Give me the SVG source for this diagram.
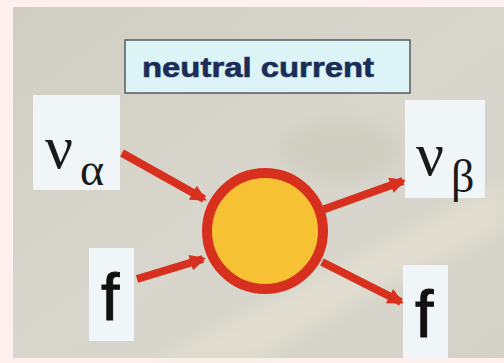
<svg xmlns="http://www.w3.org/2000/svg" width="504" height="363" viewBox="0 0 504 363">
<style>
.lbl{fill:#f0f5f8}
.arrow{stroke:#d8301e;stroke-width:8;fill:none;stroke-linecap:butt}
.serif{font-family:"Liberation Serif","DejaVu Serif",serif;fill:#1a1a1a}
.sans{font-family:"Liberation Sans",Arial,sans-serif;fill:#111;stroke:#111;stroke-width:1}
</style>
<defs>
<marker id="ah" viewBox="0 0 10 10" refX="8" refY="5" markerWidth="2.2" markerHeight="2" orient="auto" markerUnits="strokeWidth">
<path d="M0,0 L10,5 L0,10 z" fill="#d8301e"/>
</marker>
<linearGradient id="bg" x1="0" y1="0" x2="1" y2="1">
<stop offset="0" stop-color="#d0cdc2"/>
<stop offset="0.5" stop-color="#d9d7cd"/>
<stop offset="1" stop-color="#d4d2c8"/>
</linearGradient>
<filter id="blur" x="-20%" y="-20%" width="140%" height="140%"><feGaussianBlur stdDeviation="8"/></filter>
</defs>
<rect x="0" y="0" width="504" height="363" fill="#fdf0ee"/>
<rect x="13" y="7" width="491" height="351" fill="url(#bg)"/>
<g filter="url(#blur)" opacity="0.45">
<path d="M150,363 L330,270 L504,180 L504,230 L360,300 L250,363 z" fill="#ece6d6"/>
<ellipse cx="340" cy="150" rx="60" ry="30" fill="#c6c2b4"/>
</g>
<g id="connectors">
<line class="arrow" x1="122" y1="153" x2="204" y2="199" marker-end="url(#ah)"/>
<line class="arrow" x1="137" y1="279" x2="203" y2="259" marker-end="url(#ah)"/>
<line class="arrow" x1="322" y1="210" x2="403" y2="181" marker-end="url(#ah)"/>
<line class="arrow" x1="322" y1="262" x2="401" y2="302" marker-end="url(#ah)"/>
</g>
<g id="vertex">
<circle cx="265" cy="231" r="58" fill="#f6c234" stroke="#d8301e" stroke-width="10"/>
</g>
<g id="title">
<rect x="125" y="40" width="285" height="53" fill="#ddf4f7" stroke="#55595e" stroke-width="1.5"/>
<text x="142" y="77" font-family="'Liberation Sans',Arial,sans-serif" font-weight="bold" font-size="28" fill="#1c2c58" stroke="#1c2c58" stroke-width="0.6" textLength="232" lengthAdjust="spacingAndGlyphs">neutral current</text>
</g>
<g id="nu-alpha">
<rect class="lbl" x="33" y="95" width="87" height="95"/>
<text class="serif" x="45" y="168" font-size="62">ν</text>
<text class="serif" x="80" y="185" font-size="46">α</text>
</g>
<g id="nu-beta">
<rect class="lbl" x="405" y="100" width="80" height="98"/>
<text class="serif" x="416" y="175" font-size="62">ν</text>
<text class="serif" x="451" y="192" font-size="46">β</text>
</g>
<g id="f-in">
<rect class="lbl" x="89" y="248" width="45" height="93"/>
<text class="sans" x="101" y="320" font-size="66">f</text>
</g>
<g id="f-out">
<rect class="lbl" x="403" y="265" width="45" height="93"/>
<text class="sans" x="415" y="337" font-size="66">f</text>
</g>
</svg>
